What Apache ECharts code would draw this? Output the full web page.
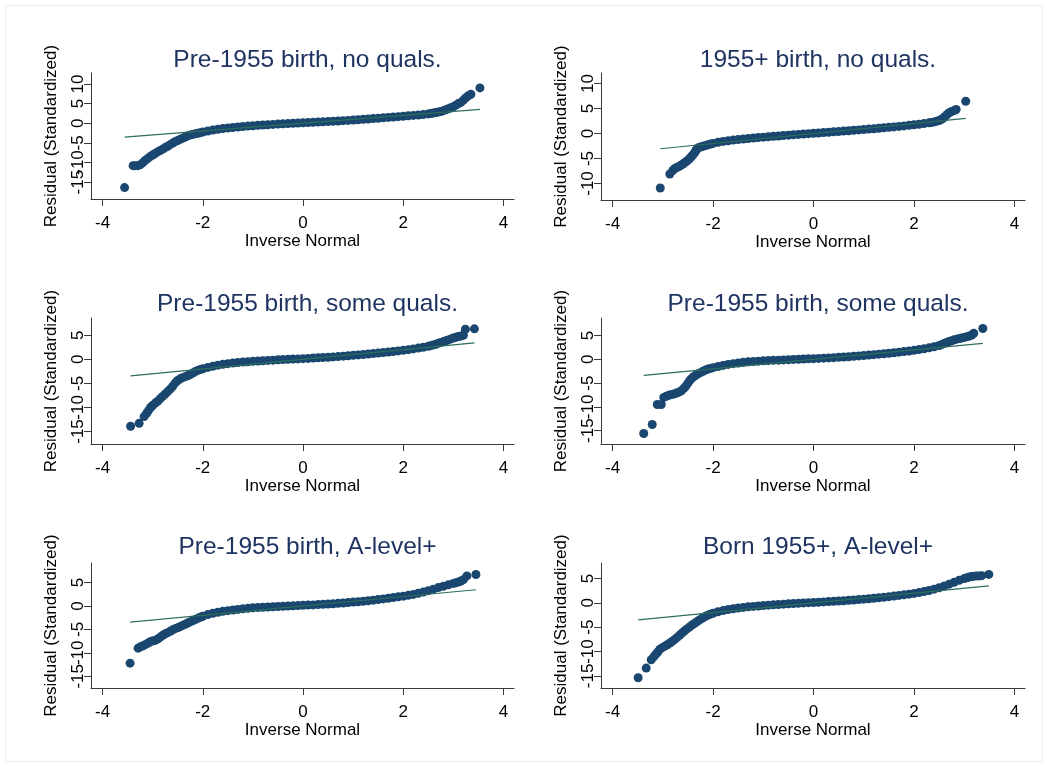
<!DOCTYPE html>
<html>
<head>
<meta charset="utf-8">
<script src="https://cdn.jsdelivr.net/npm/echarts@6/dist/echarts.min.js"></script>
<style>
html, body { margin: 0; padding: 0; background: #ffffff; }
#chart { width: 1048px; height: 767px; }
</style>
</head>
<body>
<div id="chart"></div>
<script>
// Normal Q-Q plots of standardized residuals, one panel per cohort / qualification group

const panelTitles = [
  'Pre-1955 birth, no quals.',
  '1955+ birth, no quals.',
  'Pre-1955 birth, some quals.',
  'Pre-1955 birth, some quals.',
  'Pre-1955 birth, A-level+',
  'Born 1955+, A-level+'
];

const xTickValues = [-4, -2, 0, 2, 4];
const yTickValues = [
  [-15, -10, -5, 0, 5, 10],
  [-10, -5, 0, 5, 10],
  [-15, -10, -5, 0, 5],
  [-15, -10, -5, 0, 5],
  [-15, -10, -5, 0, 5],
  [-15, -10, -5, 0, 5]
];

// Inverse-normal quantiles (q) and standardized residuals (r)
const q1 = [-3.56,-3.39,-3.35,-3.30,-3.25,-3.20,-3.15,-3.10,-3.05,-3.00,-2.95,-2.90,-2.85,-2.80,-2.75,-2.70,-2.65,-2.60,-2.55,-2.50,-2.45,-2.40,-2.35,-2.30,-2.25,-2.20,-2.15,-2.10,-2.05,-2.00,
  -1.9,-1.8,-1.7,-1.6,-1.5,-1.4,-1.3,-1.2,-1.1,-1.0,-0.9,-0.8,-0.7,-0.6,-0.5,-0.4,-0.3,-0.2,-0.1,0.0,
  0.1,0.2,0.3,0.4,0.5,0.6,0.7,0.8,0.9,1.0,1.1,1.2,1.3,1.4,1.5,1.6,1.7,1.8,1.9,2.0,2.1,2.2,2.3,2.4,2.5,
  2.55,2.6,2.65,2.7,2.75,2.8,2.85,2.9,2.95,3.0,3.05,3.1,3.15,3.2,3.25,3.3,3.35,3.53];
const r1 = [-16.4,-10.8,-10.8,-10.8,-10.6,-10.1,-9.5,-9.0,-8.5,-8.1,-7.7,-7.3,-6.95,-6.6,-6.2,-5.85,-5.45,-5.05,-4.7,-4.4,-4.1,-3.8,-3.5,-3.2,-3.0,-2.85,-2.7,-2.55,-2.4,-2.25,
  -1.98,-1.74,-1.54,-1.37,-1.22,-1.08,-0.95,-0.84,-0.73,-0.63,-0.54,-0.46,-0.38,-0.30,-0.22,-0.15,-0.08,-0.01,0.05,0.11,
  0.17,0.23,0.30,0.36,0.43,0.50,0.57,0.65,0.73,0.81,0.90,0.99,1.08,1.18,1.28,1.38,1.48,1.58,1.68,1.78,1.88,1.99,2.11,2.24,2.38,
  2.48,2.6,2.72,2.86,3.0,3.2,3.45,3.7,3.95,4.2,4.6,5.0,5.3,5.9,6.5,7.0,7.4,9.0];

const q2 = [-3.05,-2.86,-2.80,-2.76,-2.72,-2.68,-2.64,-2.60,-2.56,-2.52,-2.48,-2.45,-2.42,-2.39,-2.36,-2.34,-2.32,-2.29,-2.25,-2.20,-2.15,-2.10,-2.05,-2.00,
  -1.9,-1.8,-1.7,-1.6,-1.5,-1.4,-1.3,-1.2,-1.1,-1.0,-0.9,-0.8,-0.7,-0.6,-0.5,-0.4,-0.3,-0.2,-0.1,0.0,
  0.1,0.2,0.3,0.4,0.5,0.6,0.7,0.8,0.9,1.0,1.1,1.2,1.3,1.4,1.5,1.6,1.7,1.8,1.9,2.0,2.1,2.2,2.3,
  2.35,2.4,2.45,2.5,2.54,2.58,2.62,2.66,2.70,2.75,2.80,2.84,3.03];
const r2 = [-10.9,-8.1,-7.4,-7.0,-6.8,-6.6,-6.35,-6.1,-5.8,-5.5,-5.15,-4.85,-4.5,-4.15,-3.75,-3.4,-3.1,-2.85,-2.7,-2.55,-2.4,-2.27,-2.12,-1.98,
  -1.76,-1.58,-1.44,-1.32,-1.21,-1.1,-0.99,-0.9,-0.81,-0.73,-0.65,-0.57,-0.49,-0.41,-0.33,-0.25,-0.18,-0.1,-0.03,0.04,
  0.11,0.19,0.26,0.33,0.41,0.48,0.56,0.64,0.72,0.8,0.88,0.96,1.05,1.14,1.23,1.32,1.42,1.52,1.63,1.74,1.86,1.99,2.13,
  2.22,2.32,2.45,2.6,2.8,3.05,3.4,3.8,4.15,4.4,4.6,4.8,6.45];

const q3 = [-3.44,-3.27,-3.17,-3.12,-3.08,-3.04,-3.00,-2.95,-2.90,-2.85,-2.80,-2.75,-2.70,-2.65,-2.60,-2.55,-2.50,-2.45,-2.40,-2.35,-2.30,-2.25,-2.20,-2.15,-2.10,-2.05,-2.00,
  -1.9,-1.8,-1.7,-1.6,-1.5,-1.4,-1.3,-1.2,-1.1,-1.0,-0.9,-0.8,-0.7,-0.6,-0.5,-0.4,-0.3,-0.2,-0.1,0.0,
  0.1,0.2,0.3,0.4,0.5,0.6,0.7,0.8,0.9,1.0,1.1,1.2,1.3,1.4,1.5,1.6,1.7,1.8,1.9,2.0,2.1,2.2,2.3,2.4,2.5,
  2.55,2.6,2.65,2.7,2.75,2.8,2.85,2.9,2.95,3.0,3.05,3.1,3.15,3.2,3.24,3.42];
const r3 = [-13.9,-13.3,-11.9,-11.2,-10.6,-10.0,-9.6,-9.1,-8.7,-8.2,-7.7,-7.2,-6.7,-6.2,-5.6,-4.9,-4.4,-4.05,-3.8,-3.6,-3.4,-3.15,-2.85,-2.55,-2.3,-2.1,-1.95,
  -1.68,-1.44,-1.2,-1.04,-0.9,-0.78,-0.66,-0.57,-0.49,-0.41,-0.34,-0.28,-0.22,-0.16,-0.1,-0.05,0.0,0.05,0.1,0.15,
  0.2,0.26,0.32,0.38,0.44,0.51,0.58,0.66,0.74,0.83,0.92,1.01,1.11,1.21,1.31,1.41,1.52,1.63,1.75,1.88,2.02,2.17,2.34,2.52,2.72,
  2.85,3.0,3.15,3.33,3.5,3.7,3.88,4.05,4.25,4.45,4.6,4.75,4.85,5.0,6.25,6.35];

const q4 = [-3.38,-3.21,-3.11,-3.03,-2.98,-2.93,-2.88,-2.83,-2.78,-2.73,-2.68,-2.63,-2.58,-2.54,-2.50,-2.46,-2.42,-2.38,-2.34,-2.30,-2.25,-2.20,-2.15,-2.10,-2.05,-2.00,
  -1.9,-1.8,-1.7,-1.6,-1.5,-1.4,-1.3,-1.2,-1.1,-1.0,-0.9,-0.8,-0.7,-0.6,-0.5,-0.4,-0.3,-0.2,-0.1,0.0,
  0.1,0.2,0.3,0.4,0.5,0.6,0.7,0.8,0.9,1.0,1.1,1.2,1.3,1.4,1.5,1.6,1.7,1.8,1.9,2.0,2.1,2.2,2.3,2.4,2.5,
  2.55,2.6,2.65,2.7,2.75,2.8,2.85,2.9,2.95,3.0,3.05,3.1,3.15,3.19,3.37];
const r4 = [-15.6,-13.7,-9.5,-9.5,-8.0,-7.75,-7.55,-7.4,-7.3,-7.1,-6.9,-6.6,-6.1,-5.6,-5.0,-4.4,-3.95,-3.6,-3.3,-3.05,-2.8,-2.5,-2.25,-2.05,-1.9,-1.75,
  -1.5,-1.27,-1.06,-0.9,-0.76,-0.62,-0.52,-0.44,-0.37,-0.31,-0.26,-0.21,-0.16,-0.11,-0.06,-0.01,0.03,0.07,0.11,0.15,
  0.2,0.25,0.3,0.36,0.42,0.49,0.56,0.64,0.72,0.81,0.9,0.99,1.09,1.19,1.29,1.4,1.51,1.63,1.76,1.9,2.05,2.22,2.42,2.65,2.92,
  3.1,3.35,3.55,3.75,3.92,4.1,4.25,4.38,4.5,4.62,4.75,4.9,5.1,5.5,6.5];

const q5 = [-3.45,-3.29,-3.24,-3.19,-3.14,-3.09,-3.04,-2.99,-2.94,-2.89,-2.84,-2.79,-2.74,-2.69,-2.64,-2.59,-2.54,-2.49,-2.44,-2.39,-2.34,-2.29,-2.24,-2.19,-2.14,-2.09,-2.04,-2.00,
  -1.9,-1.8,-1.7,-1.6,-1.5,-1.4,-1.3,-1.2,-1.1,-1.0,-0.9,-0.8,-0.7,-0.6,-0.5,-0.4,-0.3,-0.2,-0.1,0.0,
  0.1,0.2,0.3,0.4,0.5,0.6,0.7,0.8,0.9,1.0,1.1,1.2,1.3,1.4,1.5,1.6,1.7,1.8,1.9,2.0,2.1,2.2,2.3,2.4,2.5,
  2.6,2.7,2.8,2.9,3.0,3.05,3.1,3.15,3.2,3.27,3.45];
const r5 = [-12.2,-9.0,-8.7,-8.5,-8.2,-7.9,-7.6,-7.45,-7.3,-7.0,-6.6,-6.2,-5.9,-5.65,-5.35,-5.05,-4.8,-4.6,-4.35,-4.1,-3.85,-3.6,-3.35,-3.1,-2.85,-2.6,-2.38,-2.2,
  -1.85,-1.56,-1.34,-1.16,-1.01,-0.87,-0.74,-0.62,-0.51,-0.41,-0.34,-0.28,-0.23,-0.18,-0.13,-0.08,-0.03,0.02,0.07,0.12,
  0.17,0.22,0.28,0.34,0.4,0.47,0.55,0.63,0.72,0.81,0.9,1.0,1.11,1.23,1.36,1.5,1.64,1.78,1.93,2.08,2.25,2.45,2.7,2.95,3.25,
  3.58,3.9,4.2,4.5,4.8,4.95,5.1,5.3,5.6,6.4,6.7];

const q6 = [-3.49,-3.33,-3.23,-3.18,-3.14,-3.10,-3.06,-3.01,-2.96,-2.91,-2.86,-2.81,-2.76,-2.71,-2.66,-2.61,-2.56,-2.51,-2.46,-2.41,-2.36,-2.31,-2.26,-2.21,-2.16,-2.11,-2.06,-2.00,
  -1.9,-1.8,-1.7,-1.6,-1.5,-1.4,-1.3,-1.2,-1.1,-1.0,-0.9,-0.8,-0.7,-0.6,-0.5,-0.4,-0.3,-0.2,-0.1,0.0,
  0.1,0.2,0.3,0.4,0.5,0.6,0.7,0.8,0.9,1.0,1.1,1.2,1.3,1.4,1.5,1.6,1.7,1.8,1.9,2.0,2.1,2.2,2.3,2.4,2.5,
  2.6,2.7,2.8,2.9,3.0,3.05,3.1,3.15,3.2,3.25,3.3,3.35,3.49];
const r6 = [-15.4,-13.4,-11.7,-11.1,-10.6,-10.1,-9.55,-9.2,-8.9,-8.6,-8.25,-7.9,-7.5,-7.05,-6.6,-6.15,-5.7,-5.3,-4.9,-4.5,-4.15,-3.8,-3.45,-3.1,-2.8,-2.55,-2.35,-2.12,
  -1.82,-1.58,-1.38,-1.2,-1.06,-0.93,-0.82,-0.72,-0.63,-0.55,-0.47,-0.4,-0.33,-0.26,-0.19,-0.13,-0.07,-0.01,0.04,0.09,
  0.14,0.2,0.26,0.32,0.38,0.45,0.52,0.6,0.68,0.77,0.86,0.95,1.05,1.16,1.28,1.4,1.53,1.66,1.8,1.95,2.12,2.32,2.55,2.82,3.1,
  3.45,3.85,4.25,4.65,5.0,5.15,5.3,5.42,5.5,5.55,5.55,5.6,5.85];

// Reference line y = x drawn between the extreme quantiles of each panel
const refEnds = [[-3.56, 3.53], [-3.05, 3.03], [-3.44, 3.42], [-3.38, 3.37], [-3.45, 3.45], [-3.49, 3.49]];

const quantiles = [q1, q2, q3, q4, q5, q6];
const residuals = [r1, r2, r3, r4, r5, r6];

// Panel geometry and axis extents
const gridBoxes = [
  { left: 91,  top: 73,  width: 423, height: 126 },
  { left: 601, top: 73,  width: 424, height: 127 },
  { left: 91,  top: 318, width: 423, height: 126 },
  { left: 601, top: 318, width: 424, height: 126 },
  { left: 91,  top: 563, width: 423, height: 125 },
  { left: 601, top: 563, width: 424, height: 125 }
];
const yExtents = [[-19.3, 12.8], [-13.3, 12.1], [-17.6, 8.6], [-17.8, 8.7], [-17.5, 9.15], [-17.5, 8.2]];
const xExtent = [-4.23, 4.21];
const titleY = [43, 43, 287, 287, 530, 530];

const FONT = '"Liberation Sans", Arial, Helvetica, sans-serif';
const DOT = '#1a476f';
const REF = '#2d6e5c';
const AXIS = '#3a3a3a';

const grid = [], xAxis = [], yAxis = [], series = [], title = [];

// The rotated y labels sit very close together, so alternate labels are
// carried by two coincident left axes to keep every one of them visible.
function yLabelAxis(i, values, withLine) {
  return {
    type: 'value', gridIndex: i, position: 'left', offset: 0,
    min: yExtents[i][0], max: yExtents[i][1],
    axisLine: { show: withLine, onZero: false, lineStyle: { color: AXIS, width: 1 } },
    axisTick: { show: withLine, length: 7, customValues: yTickValues[i], lineStyle: { color: AXIS } },
    axisLabel: { customValues: values, hideOverlap: false, rotate: 90,
      fontFamily: FONT, fontSize: 17, color: '#000', margin: 4 },
    splitLine: { show: false },
    name: withLine ? 'Residual (Standardized)' : '',
    nameLocation: 'middle', nameGap: 31,
    nameTextStyle: { fontFamily: FONT, fontSize: 17, color: '#000' }
  };
}

gridBoxes.forEach((g, i) => {
  grid.push(Object.assign({ containLabel: false }, g));
  title.push({
    text: panelTitles[i],
    left: g.left + g.width / 2,
    top: titleY[i],
    textAlign: 'center',
    textStyle: { fontFamily: FONT, fontSize: 24.5, fontWeight: 'normal', color: '#1f3461' }
  });
  xAxis.push({
    type: 'value', gridIndex: i, min: xExtent[0], max: xExtent[1],
    axisLine: { show: true, onZero: false, lineStyle: { color: AXIS, width: 1 } },
    axisTick: { show: true, length: 7, customValues: xTickValues, lineStyle: { color: AXIS } },
    axisLabel: { customValues: xTickValues, hideOverlap: false, fontFamily: FONT, fontSize: 17, color: '#000', margin: 16 },
    splitLine: { show: false },
    name: 'Inverse Normal', nameLocation: 'middle', nameGap: 31,
    nameTextStyle: { fontFamily: FONT, fontSize: 17, color: '#000' }
  });
  const ticks = yTickValues[i];
  yAxis.push(yLabelAxis(i, ticks.filter((_, k) => k % 2 === 0), true));
  yAxis.push(yLabelAxis(i, ticks.filter((_, k) => k % 2 === 1), false));
  series.push({
    type: 'scatter', xAxisIndex: i, yAxisIndex: 2 * i,
    data: quantiles[i].map((q, k) => [q, residuals[i][k]]),
    symbol: 'circle', symbolSize: 9,
    itemStyle: { color: DOT, opacity: 1 },
    silent: true, z: 2
  });
  series.push({
    type: 'line', xAxisIndex: i, yAxisIndex: 2 * i,
    data: [[refEnds[i][0], refEnds[i][0]], [refEnds[i][1], refEnds[i][1]]],
    showSymbol: false, symbol: 'none',
    lineStyle: { color: REF, width: 1.2 },
    silent: true, z: 3
  });
});

const chart = echarts.init(document.getElementById('chart'), null, { renderer: 'canvas' });
chart.setOption({
  backgroundColor: '#ffffff',
  animation: false,
  title, grid, xAxis, yAxis, series,
  graphic: [{
    type: 'rect', silent: true,
    shape: { x: 5.5, y: 5.5, width: 1037, height: 756 },
    style: { fill: 'none', stroke: '#ececec', lineWidth: 1 }
  }]
});
</script>
</body>
</html>
